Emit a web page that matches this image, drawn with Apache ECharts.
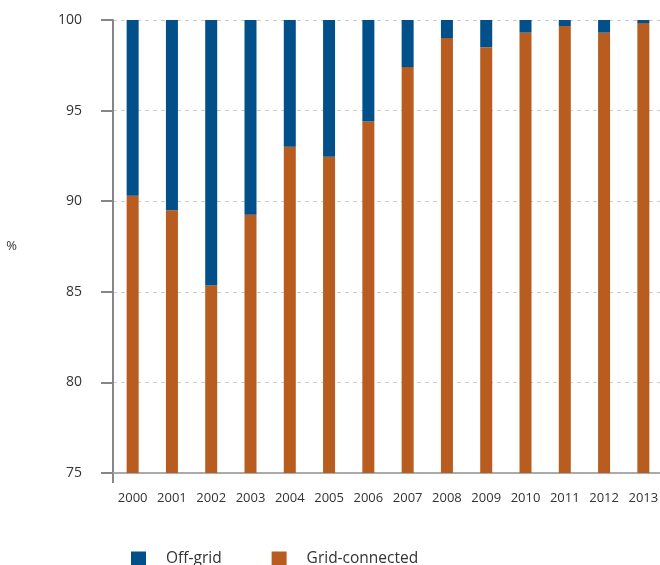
<!DOCTYPE html>
<html>
<head>
<meta charset="utf-8">
<script src="https://cdn.jsdelivr.net/npm/echarts@6/dist/echarts.min.js"></script>
<style>
  html, body { margin: 0; padding: 0; background: #fff; }
  #chart { width: 660px; height: 565px; }
</style>
</head>
<body>
<div id="chart"></div>
<script>
// years on the x axis
const years = ['2000', '2001', '2002', '2003', '2004', '2005', '2006',
               '2007', '2008', '2009', '2010', '2011', '2012', '2013'];
// share of grid-connected capacity (%)
const gridConnected = [90.3, 89.5, 85.35, 89.25, 93.0, 92.45, 94.4,
                       97.4, 99.0, 98.5, 99.3, 99.67, 99.3, 99.83];
// share of off-grid capacity (%)
const offGrid = [9.7, 10.5, 14.65, 10.75, 7.0, 7.55, 5.6,
                 2.6, 1.0, 1.5, 0.7, 0.33, 0.7, 0.17];

const chart = echarts.init(document.getElementById('chart'));

const option = {
    animation: false,
    textStyle: { fontFamily: 'Open Sans' },
    legend: {
        data: ['Off-grid', 'Grid-connected'],
        left: 126,
        top: 546,
        itemWidth: 15,
        itemHeight: 15,
        itemGap: 50,
        icon: 'rect',
        textStyle: {
            fontSize: 15.5,
            color: '#333',
            padding: [0, 0, 0, 15]
        }
    },
    grid: {
        left: 113,
        width: 550,
        top: 20,
        bottom: 92,
        outerBoundsMode: 'none'
    },
    xAxis: {
        type: 'category',
        data: years,
        axisLine: { lineStyle: { color: '#aaaaaa', width: 2 } },
        axisTick: {
            show: true,
            length: 10,
            interval: (index) => index === 0,
            lineStyle: { color: '#888', width: 2 }
        },
        axisLabel: { fontSize: 13, color: '#333', margin: 19 }
    },
    yAxis: {
        type: 'value',
        min: 75,
        max: 100,
        interval: 5,
        name: '%',
        nameLocation: 'middle',
        nameRotate: 0,
        nameGap: 96,
        nameTextStyle: { fontSize: 13, color: '#333' },
        axisLine: { show: true, lineStyle: { color: '#86868a', width: 2 } },
        axisTick: { show: true, length: 12, lineStyle: { color: '#86868a', width: 2 } },
        axisLabel: { fontSize: 14, color: '#333', margin: 31 },
        splitLine: { lineStyle: { color: '#cccccc', type: [4, 4], width: 1 } }
    },
    series: [
        {
            name: 'Grid-connected',
            type: 'bar',
            stack: 'share',
            data: gridConnected,
            barWidth: 12,
            itemStyle: { color: '#b85c1f' }
        },
        {
            name: 'Off-grid',
            type: 'bar',
            stack: 'share',
            data: offGrid,
            barWidth: 12,
            itemStyle: { color: '#01508a' }
        }
    ]
};
chart.setOption(option);
</script>
</body>
</html>
